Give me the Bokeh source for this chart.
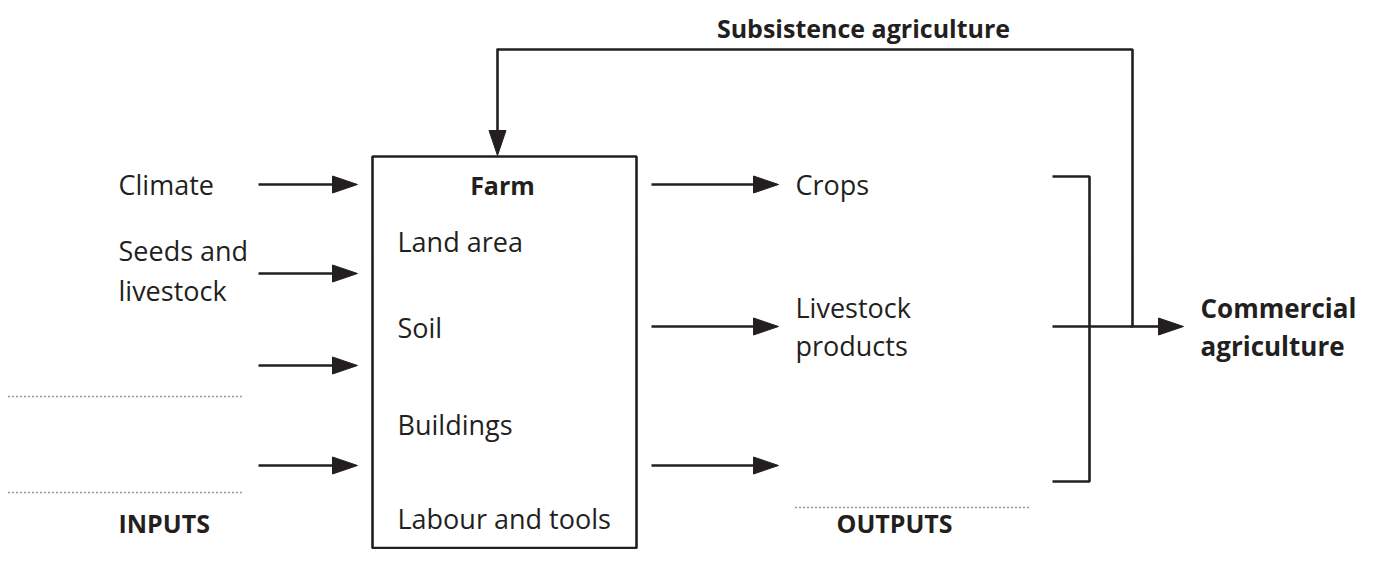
from bokeh.plotting import figure
from bokeh.models import Range1d
from bokeh.core.properties import value
from bokeh.embed import file_html
from bokeh.resources import INLINE

# ---- diagram content ----
input_labels = ["Climate", "Seeds and", "livestock"]
input_label_y = [184, 250, 290]
input_arrow_y = [184, 273, 365, 465]
input_blank_y = [396, 492]

farm_title = "Farm"
farm_items = ["Land area", "Soil", "Buildings", "Labour and tools"]
farm_item_y = [241, 327, 424, 518]

output_labels = ["Crops", "Livestock", "products"]
output_label_y = [184, 307, 345]
output_arrow_y = [184, 326, 465]
output_blank_y = [507]

commercial_lines = ["Commercial", "agriculture"]
commercial_y = [307, 345]
subsistence = "Subsistence agriculture"
inputs_title = "INPUTS"
outputs_title = "OUTPUTS"

INK = "#231f20"
FONT = "Open Sans"
REG = "27px"
BOLD = "25px"
LW = 2.6

W, H = 1359, 549
p = figure(width=W, height=H, output_backend="svg", toolbar_location=None,
           x_range=Range1d(0, W), y_range=Range1d(H, 0),
           min_border=0, outline_line_color=None)
p.axis.visible = False
p.grid.visible = False
p.background_fill_color = "white"


def arrow(x0, y0, x1, y1, head_len=25, head_half=8.5):
    dx, dy = x1 - x0, y1 - y0
    L = (dx * dx + dy * dy) ** 0.5
    ux, uy = dx / L, dy / L
    bx, by = x1 - ux * head_len, y1 - uy * head_len
    p.line([x0, bx + ux * 2], [y0, by + uy * 2], line_color=INK, line_width=LW)
    nx, ny = -uy, ux
    p.patch([x1, bx + nx * head_half, bx - nx * head_half],
            [y1, by + ny * head_half, by - ny * head_half],
            fill_color=INK, line_color=INK, line_width=1)


def txt(x, y, s, bold=False, align="left", size=None):
    p.text([x], [y], text=[s], text_font=value(FONT),
           text_font_size=size or (BOLD if bold else REG),
           text_font_style="bold" if bold else "normal",
           text_color=INK, text_align=align, text_baseline="middle")


# inputs
for s, y in zip(input_labels, input_label_y):
    txt(118, y, s)
for y in input_arrow_y:
    arrow(258, y, 357, y)
for y in input_blank_y:
    p.line([8, 241], [y, y], line_color="#333333", line_width=1.6, line_dash="1 3")
txt(118, 522, inputs_title, bold=True)

# farm box
p.quad(left=372, right=636, top=156, bottom=547.5, fill_color=None,
       line_color=INK, line_width=LW)
txt(502, 184, farm_title, bold=True, align="center")
for s, y in zip(farm_items, farm_item_y):
    txt(397, y, s)

# outputs
for y in output_arrow_y:
    arrow(651, y, 778, y)
for s, y in zip(output_labels, output_label_y):
    txt(795, y, s)
for y in output_blank_y:
    p.line([795, 1028], [y, y], line_color="#333333", line_width=1.6, line_dash="1 3")
txt(836, 522, outputs_title, bold=True)

# bracket
p.line([1052, 1089, 1089, 1052], [176, 176, 481, 481], line_color=INK, line_width=LW)
# to commercial
p.line([1052, 1132], [326, 326], line_color=INK, line_width=LW)
arrow(1130, 326, 1183, 326)
for s, y in zip(commercial_lines, commercial_y):
    txt(1200, y, s, bold=True, size="26px")

# subsistence feedback loop
p.line([1132, 1132, 497], [326, 49, 49], line_color=INK, line_width=LW)
arrow(497, 48, 497, 155)
txt(863, 27, subsistence, bold=True, align="center")

open("out.html", "w").write(file_html(p, INLINE))
